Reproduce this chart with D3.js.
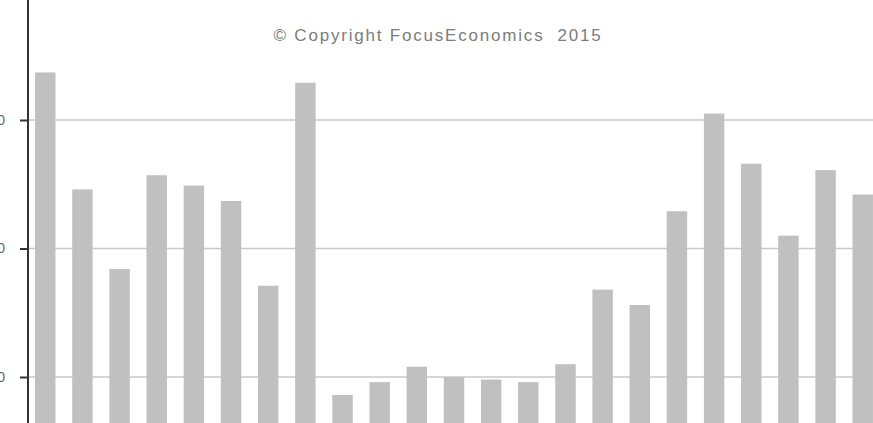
<!DOCTYPE html>
<html lang="en">
<head>
<meta charset="UTF-8">
<title>Bar chart</title>
<script src="https://d3js.org/d3.v7.min.js"></script>
<style>
  body { margin: 0; background: #fff; }
  svg { display: block; font-family: "Liberation Sans", Arial, sans-serif; }
</style>
</head>
<body>
<div id="chart"></div>
<script>
// data (left tick labels are clipped in the source)
const categories = d3.range(1, 24).map(d => "c" + d);
const values = [33.7, 24.6, 18.4, 25.7, 24.9, 23.7, 17.1, 32.9, 8.6, 9.6, 10.8, 10.0,
                9.8, 9.6, 11.0, 16.8, 15.6, 22.9, 30.5, 26.6, 21.0, 26.1, 24.2];
const tickValues = [10, 20, 30];
const copyright = "\u00A9 Copyright FocusEconomics\u00A0 2015";

const width = 873, height = 423;

const svg = d3.select("#chart").append("svg")
  .attr("width", width)
  .attr("height", height);

const x = d3.scaleBand()
  .domain(categories)
  .range([27.6, 880.4])
  .paddingInner(0.45)
  .paddingOuter(0.2);

const y = d3.scaleLinear()
  .domain([10, 30])
  .range([377, 120]);

// gridlines
svg.append("g")
  .selectAll("line")
  .data(tickValues)
  .join("line")
  .attr("x1", 28)
  .attr("x2", width)
  .attr("y1", d => y(d))
  .attr("y2", d => y(d))
  .attr("stroke", "#c9c9c9")
  .attr("stroke-width", 1.5);

// bars
svg.append("g")
  .selectAll("rect")
  .data(values)
  .join("rect")
  .attr("x", (d, i) => x(categories[i]))
  .attr("width", x.bandwidth())
  .attr("y", d => y(d))
  .attr("height", d => height - y(d))
  .attr("fill", "#c0c0c0");

// y axis (labels sit mostly off the left edge, as in the source)
const axis = svg.append("g")
  .attr("transform", "translate(28,0)")
  .call(d3.axisLeft(y).tickValues(tickValues).tickSize(8).tickFormat(d3.format("d")));
axis.select(".domain").remove();
axis.selectAll(".tick line").attr("stroke", "#333").attr("stroke-width", 2);
axis.selectAll(".tick text")
  .attr("x", -23)
  .attr("fill", "#666")
  .style("font-size", "14px");

svg.append("line")
  .attr("x1", 28).attr("x2", 28)
  .attr("y1", 0).attr("y2", height)
  .attr("stroke", "#333")
  .attr("stroke-width", 2);

// watermark
svg.append("text")
  .attr("x", 438)
  .attr("y", 41)
  .attr("text-anchor", "middle")
  .attr("fill", "#7c7c7c")
  .style("font-size", "17px")
  .style("letter-spacing", "1.8px")
  .text(copyright);
</script>
</body>
</html>
